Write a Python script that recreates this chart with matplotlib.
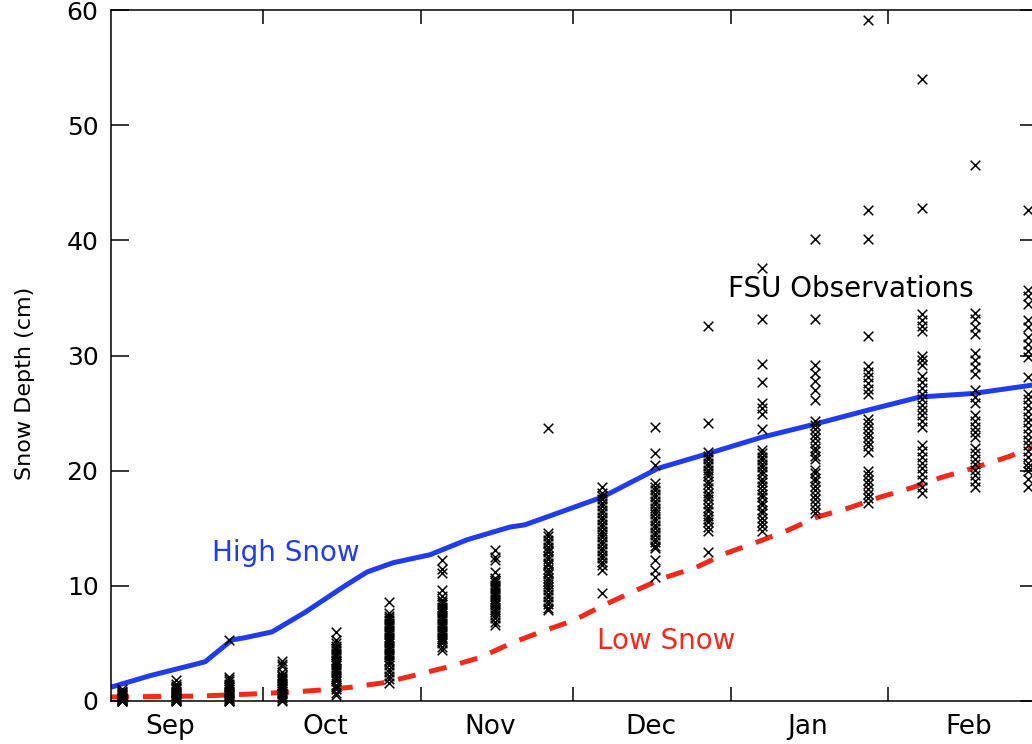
import matplotlib.pyplot as plt
import numpy as np

# days since 1 Sep
month_starts = [0, 30, 61, 91, 122, 153]
month_names = ["Sep", "Oct", "Nov", "Dec", "Jan", "Feb"]
month_label_pos = [11.6, 42.3, 74.6, 106.3, 137.2, 168.9]

# model snow depth curves (cm)
high_day = [0.0, 7.7, 18.5, 23.8, 26.4, 31.7, 38.2, 45.7, 50.4, 55.5, 62.8, 70.1,
            78.5, 81.5, 96.7, 107.7, 116.9, 128.1, 138.2, 149.4, 159.3, 169.7, 182.5]
high_depth = [1.2, 2.2, 3.4, 5.3, 5.5, 6.0, 7.7, 9.9, 11.2, 12.0, 12.7, 14.0,
              15.1, 15.3, 17.7, 20.2, 21.4, 22.9, 24.0, 25.3, 26.4, 26.7, 27.5]

low_day = [0.0, 17.5, 27.4, 36.6, 41.1, 47.4, 53.9, 60.4, 66.7, 72.8, 78.7, 84.6,
           91.1, 96.9, 102.8, 108.9, 115.2, 120.9, 127.2, 133.1, 139.2, 145.5,
           151.4, 157.5, 163.4, 170.3, 176.6, 182.5]
low_depth = [0.35, 0.43, 0.6, 0.8, 0.95, 1.2, 1.6, 2.3, 3.0, 3.8, 5.0, 6.0,
             7.0, 8.3, 9.5, 10.7, 11.6, 12.8, 13.8, 14.8, 16.0, 16.8,
             17.7, 18.5, 19.4, 20.3, 21.2, 22.2]

# FSU station observations, one list per observation date
obs_day = [2.2, 12.7, 23.2, 33.7, 44.2, 54.7, 65.1, 75.6, 86.1, 96.6,
           107.1, 117.6, 128.1, 138.6, 149.1, 159.6, 170.0, 180.5]
obs_depth = [
    [0.0, 0.0, 0.0, 0.1, 0.1, 0.2, 0.2, 0.3, 0.3, 0.4, 0.5, 0.5, 0.6, 0.7, 0.8, 0.9, 1.0],
    [0.0, 0.0, 0.1, 0.1, 0.2, 0.3, 0.3, 0.4, 0.5, 0.6, 0.7, 0.8, 0.9, 1.0, 1.1, 1.2, 1.3, 1.5, 1.8],
    [5.3, 2.1, 1.9, 1.7, 1.5, 1.3, 1.2, 1.0, 0.9, 0.8, 0.7, 0.6, 0.5, 0.4, 0.3, 0.2, 0.1, 0.0, 0.0],
    [3.5, 3.2, 3.0, 2.5, 2.3, 2.2, 2.0, 1.9, 1.7, 1.6, 1.4, 1.3, 1.1, 1.0, 0.9, 0.7, 0.6, 0.4,
     0.3, 0.1, 0.0],
    [6.0, 5.3, 5.0, 4.8, 4.6, 4.4, 4.2, 4.0, 3.8, 3.6, 3.5, 3.3, 3.1, 2.9, 2.7, 2.5, 2.3, 2.1,
     1.9, 1.7, 1.4, 1.2, 1.0, 0.7, 0.5],
    [8.6, 7.6, 7.4, 7.2, 7.0, 6.8, 6.6, 6.4, 6.2, 6.0, 5.8, 5.6, 5.4, 5.2, 5.0, 4.8, 4.6, 4.4,
     4.2, 4.0, 3.8, 3.6, 3.4, 3.1, 2.8, 2.5, 2.2, 1.9, 1.6],
    [12.2, 11.5, 11.1, 9.6, 9.1, 8.8, 8.6, 8.4, 8.2, 8.0, 7.8, 7.6, 7.4, 7.2, 7.0, 6.8, 6.6,
     6.4, 6.2, 6.0, 5.8, 5.6, 5.4, 5.2, 5.0, 4.7, 4.4],
    [13.1, 12.5, 12.2, 11.2, 10.7, 10.5, 10.3, 10.1, 9.9, 9.7, 9.5, 9.3, 9.1, 8.9, 8.7, 8.5,
     8.3, 8.1, 7.9, 7.7, 7.5, 7.2, 6.9, 6.6],
    [23.7, 14.6, 14.3, 14.0, 13.7, 13.4, 13.1, 12.9, 12.6, 12.3, 12.0, 11.8, 11.5, 11.2, 11.0,
     10.7, 10.4, 10.2, 9.9, 9.6, 9.3, 9.0, 8.7, 8.4, 8.1, 7.9],
    [18.6, 18.1, 17.8, 17.5, 17.2, 16.9, 16.6, 16.3, 16.0, 15.7, 15.4, 15.1, 14.8, 14.5, 14.2,
     13.9, 13.6, 13.3, 13.0, 12.7, 12.4, 12.1, 11.8, 11.4, 9.4],
    [23.8, 21.5, 20.5, 18.9, 18.6, 18.3, 18.0, 17.7, 17.4, 17.1, 16.8, 16.5, 16.2, 15.9, 15.6,
     15.3, 15.0, 14.7, 14.4, 14.1, 13.8, 13.5, 13.3, 12.2, 11.4, 10.8],
    [32.6, 24.1, 21.6, 21.3, 21.0, 20.7, 20.4, 20.1, 19.8, 19.5, 19.1, 18.8, 18.5, 18.1, 17.8,
     17.5, 17.1, 16.8, 16.5, 16.1, 15.8, 15.5, 15.1, 14.8, 12.9],
    [37.6, 33.2, 29.3, 27.7, 25.9, 25.4, 24.9, 23.6, 21.8, 21.5, 21.2, 20.9, 20.6, 20.3, 20.0,
     19.7, 19.3, 19.0, 18.7, 18.3, 18.0, 17.7, 17.3, 17.0, 16.6, 16.3, 15.9, 15.5, 15.2, 14.8],
    [40.1, 33.2, 29.2, 28.5, 27.8, 27.0, 26.1, 24.3, 24.0, 23.6, 23.2, 22.8, 22.4, 22.0, 21.7,
     21.3, 21.0, 20.1, 19.8, 19.4, 19.1, 18.7, 18.3, 17.9, 17.5, 17.1, 16.7, 16.3],
    [59.1, 42.6, 40.1, 31.7, 29.1, 28.6, 28.1, 27.6, 27.1, 26.7, 24.5, 24.1, 23.7, 23.3, 22.9,
     22.5, 22.1, 21.6, 20.0, 19.6, 19.2, 18.8, 18.4, 18.0, 17.6, 17.2],
    [54.0, 42.8, 33.6, 33.1, 32.6, 32.1, 30.0, 29.6, 29.2, 28.2, 27.7, 27.2, 26.7, 26.2, 25.7,
     25.3, 24.8, 24.3, 23.8, 22.2, 21.7, 21.2, 20.7, 20.2, 19.7, 19.2, 18.6, 18.1],
    [46.5, 33.7, 33.2, 32.5, 31.9, 30.2, 29.6, 29.0, 28.4, 27.0, 26.4, 25.9, 24.8, 24.3, 23.8,
     23.4, 22.9, 22.0, 21.5, 21.0, 20.6, 20.1, 19.6, 19.1, 18.6],
    [42.6, 35.7, 35.2, 34.5, 33.1, 32.5, 31.6, 31.0, 30.4, 29.9, 28.1, 26.7, 26.2, 25.7, 25.2,
     24.7, 24.2, 23.7, 23.2, 22.7, 22.2, 21.7, 21.2, 20.7, 20.3, 20.0, 19.3, 18.6],
]

blue = '#1f3cf0'
red = '#f5291a'

plt.rcParams['font.family'] = 'DejaVu Sans'

fig = plt.figure(figsize=(10.32, 7.44), dpi=100)
ax = fig.add_axes([111 / 1032, 43 / 744, 927 / 1032, 691 / 744])

ax.plot(high_day, high_depth, color=blue, linewidth=3.6, solid_capstyle='butt')
low, = ax.plot(low_day, low_depth, color=red, linewidth=3.6, dash_capstyle='butt')
low.set_dashes([3.6, 2.8])

for day, depths in zip(obs_day, obs_depth):
    ax.scatter(np.full(len(depths), day), depths, marker='x', s=48,
               color='black', linewidths=1.1, zorder=3, clip_on=False)

ax.text(34.4, 12.85, "High Snow", color=blue, fontsize=20, ha='center', va='center')
ax.text(109.3, 5.2, "Low Snow", color=red, fontsize=20, ha='center', va='center')
ax.text(145.7, 35.8, "FSU Observations", color='black', fontsize=20,
        ha='center', va='center')

ax.set_xlim(0, 182.5)
ax.set_ylim(0, 60)

ax.set_xticks(month_starts[1:])
ax.set_xticklabels([])
ax.set_xticks(month_label_pos, minor=True)
ax.set_xticklabels(month_names, minor=True, fontsize=19)
ax.tick_params(axis='x', which='major', direction='in', length=10, width=1.1,
               top=True, bottom=True)
ax.tick_params(axis='x', which='minor', length=0, pad=9)

ax.set_yticks(range(0, 61, 10))
ax.tick_params(axis='y', direction='in', length=13, width=1.1, left=True, right=True,
               labelsize=18, pad=9)

for spine in ax.spines.values():
    spine.set_linewidth(1.1)

fig.text(25 / 1032, 1 - 383 / 744, "Snow Depth (cm)", rotation=90, fontsize=16,
         ha='center', va='center')

fig.savefig("out.png", dpi=100)
